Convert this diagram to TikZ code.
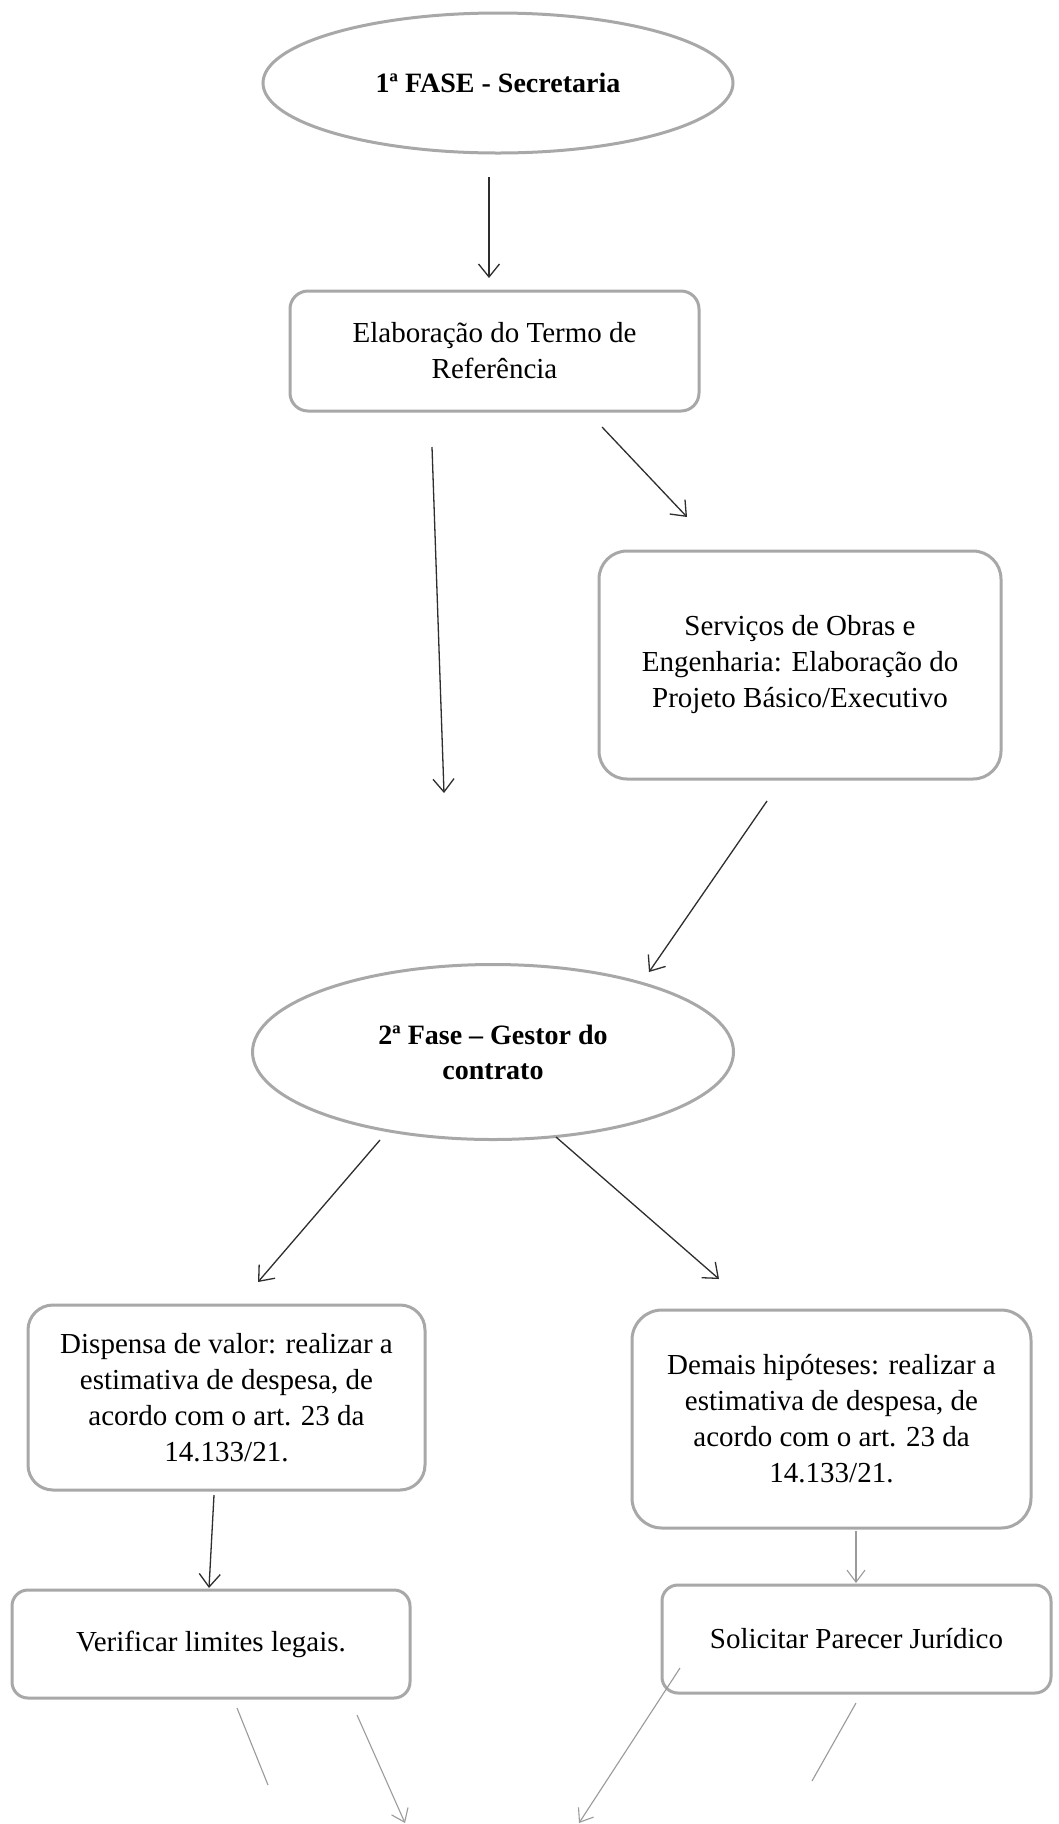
\documentclass[tikz,border=0pt]{standalone}
\usepackage{fontspec}
\setmainfont{Liberation Serif}
\usetikzlibrary{shapes.geometric,arrows.meta}
\definecolor{boxgray}{HTML}{A8A8A8}
\definecolor{linedark}{HTML}{2E2E2E}
\definecolor{linegray}{HTML}{9A9A9A}
\begin{document}
\begin{tikzpicture}[x=1pt,y=-1pt,
  every node/.style={font=\fontsize{29pt}{36pt}\selectfont, text=black, inner sep=0pt, outer sep=0pt},
  boxframe/.style={draw=boxgray, line width=3pt, rectangle, rounded corners=#1, align=center},
  boxframe/.default=18pt,
  phase/.style={draw=boxgray, line width=3pt, ellipse, align=center, font=\fontsize{28pt}{35pt}\selectfont\bfseries},
  conn/.style={draw=linedark, line width=1.3pt, -{Straight Barb[length=13pt,width=21pt,line width=1.3pt]}},
  connlight/.style={draw=linegray, line width=1.1pt, -{Straight Barb[length=12pt,width=18pt,line width=1.1pt]}},
  stub/.style={draw=linegray, line width=1.1pt}
]
\fill[white] (0,0) rectangle (1058,1824);
\useasboundingbox (0,0) rectangle (1058,1824);

% nodes
\node[phase, minimum width=470pt, minimum height=140pt] (e1) at (498,83) {1ª FASE - Secretaria};
\node[boxframe, minimum width=409pt, minimum height=120pt] (b1) at (494.5,351) {Elaboração do Termo de\\Referência};
\node[boxframe=28pt, minimum width=402pt, minimum height=228pt] (serv) at (800,665) {Serviços de Obras e\\Engenharia: Elaboração do\\Projeto Básico/Executivo};
\node[phase, minimum width=481pt, minimum height=175pt] (e2) at (493,1052) {2ª Fase – Gestor do\\contrato};
\node[boxframe=25pt, minimum width=397pt, minimum height=185pt] (disp) at (226.5,1397.5) {Dispensa de valor: realizar a\\estimativa de despesa, de\\acordo com o art. 23 da\\14.133/21.};
\node[boxframe=30pt, minimum width=399pt, minimum height=218pt] (dem) at (831.5,1419) {Demais hipóteses: realizar a\\estimativa de despesa, de\\acordo com o art. 23 da\\14.133/21.};
\node[boxframe=16pt, minimum width=398pt, minimum height=108pt] (verif) at (211,1644) {Verificar limites legais.};
\node[boxframe=16pt, minimum width=389pt, minimum height=108pt] (sol) at (856.5,1639) {Solicitar Parecer Jurídico};

% connector end points
\coordinate (e1-out) at (489,177);   \coordinate (b1-in) at (489,278);
\coordinate (b1-outA) at (432,447);  \coordinate (b1-endA) at (444,793);
\coordinate (b1-outB) at (602,427);  \coordinate (serv-in) at (687,517);
\coordinate (serv-out) at (767,801); \coordinate (e2-in) at (649,972);
\coordinate (e2-outL) at (380,1140); \coordinate (disp-in) at (258,1282);
\coordinate (e2-outR) at (556,1137); \coordinate (dem-in) at (719,1279);
\coordinate (disp-out) at (214,1495); \coordinate (verif-in) at (209,1588);
\coordinate (dem-out) at (856,1531); \coordinate (sol-in) at (856,1583);
\coordinate (verif-outA) at (237,1708); \coordinate (verif-endA) at (268,1785);
\coordinate (verif-outB) at (357,1715); \coordinate (verif-endB) at (405,1823);
\coordinate (sol-outC) at (680,1668); \coordinate (sol-endC) at (579,1823);
\coordinate (sol-outD) at (856,1703); \coordinate (sol-endD) at (812,1781);

% connectors
\draw[conn] (e1-out) -- (b1-in);
\draw[conn] (b1-outA) -- (b1-endA);
\draw[conn] (b1-outB) -- (serv-in);
\draw[conn] (serv-out) -- (e2-in);
\draw[conn] (e2-outL) -- (disp-in);
\draw[conn] (e2-outR) -- (dem-in);
\draw[conn] (disp-out) -- (verif-in);
\draw[connlight] (dem-out) -- (sol-in);
\draw[stub] (verif-outA) -- (verif-endA);
\draw[connlight] (verif-outB) -- (verif-endB);
\draw[connlight] (sol-outC) -- (sol-endC);
\draw[stub] (sol-outD) -- (sol-endD);
\end{tikzpicture}
\end{document}
